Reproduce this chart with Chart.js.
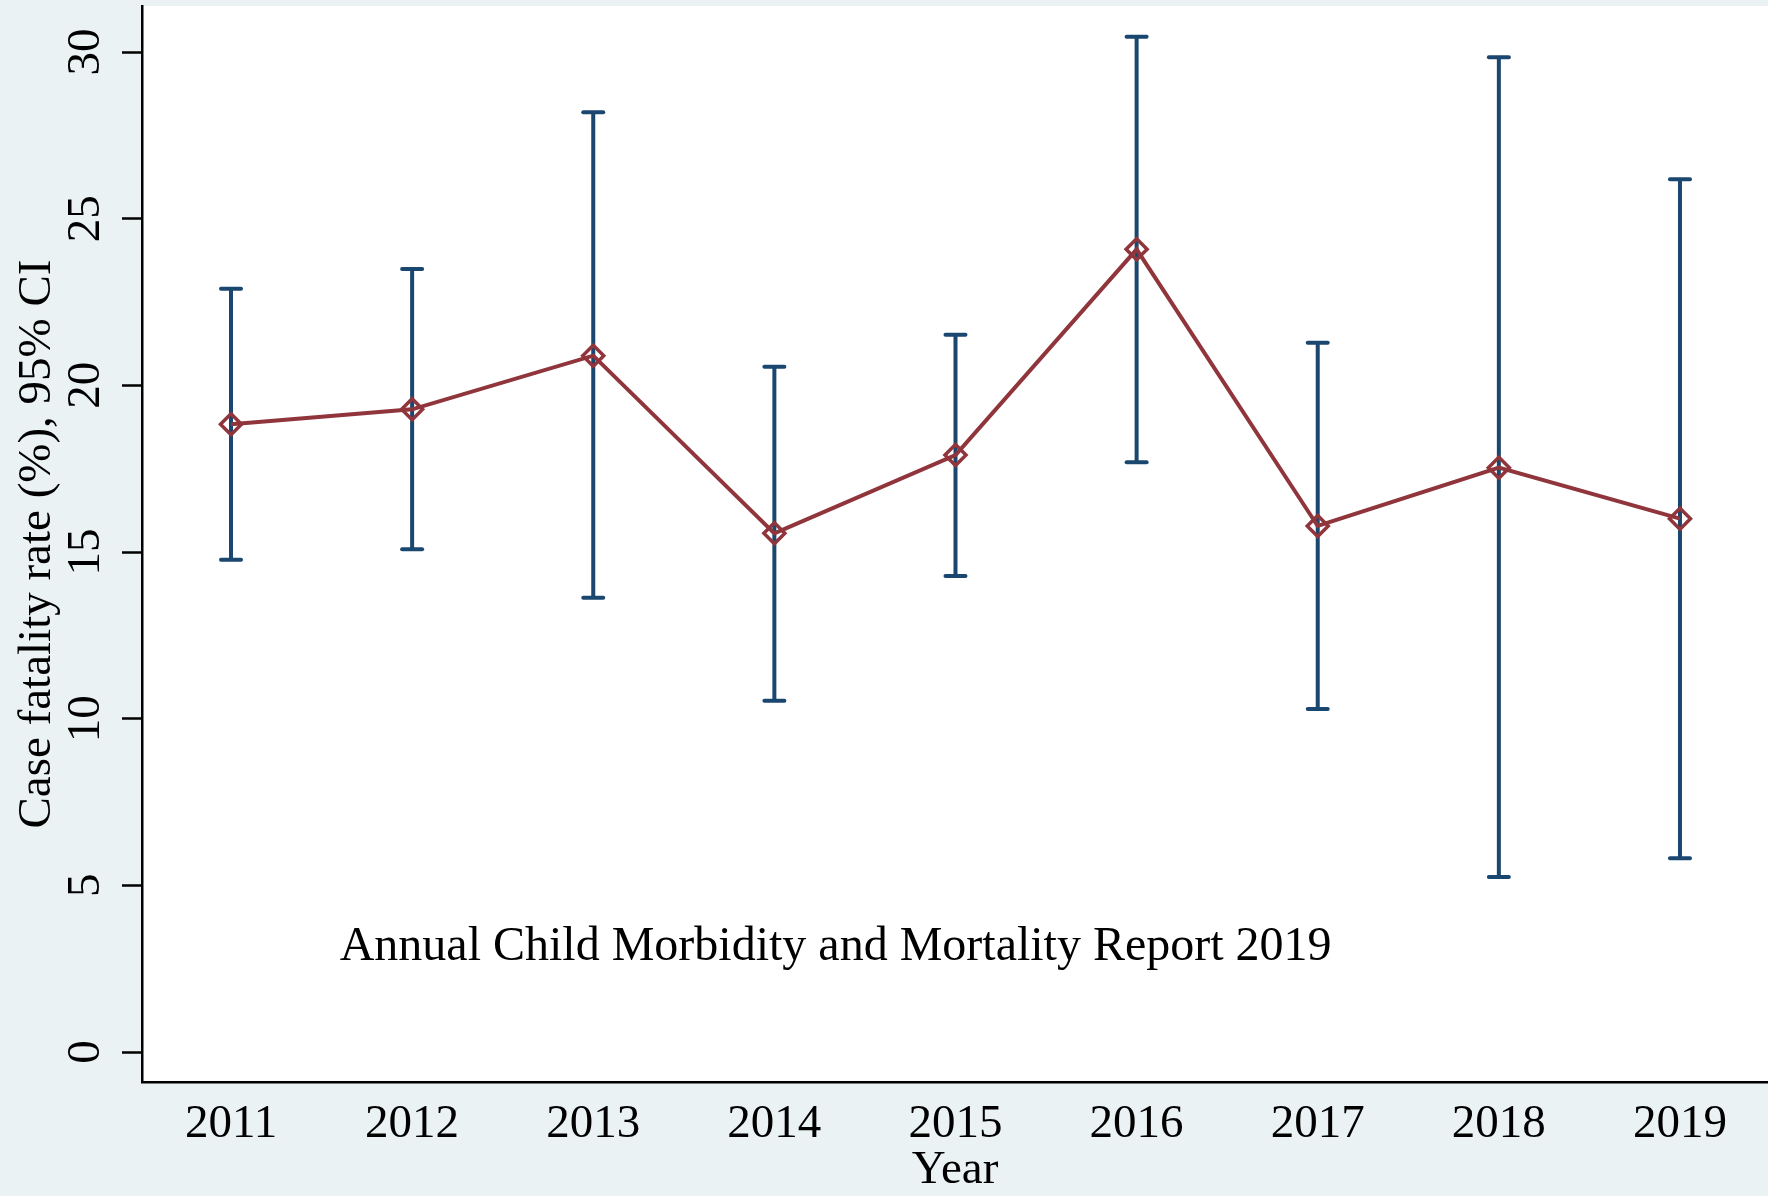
<!DOCTYPE html>
<html>
<head>
<meta charset="utf-8">
<title>Case fatality rate, 2011-2019</title>
<script src="https://cdn.jsdelivr.net/npm/chart.js@4.4.1/dist/chart.umd.min.js"></script>
<style>
  html, body { margin: 0; padding: 0; background: #eaf2f3; overflow: hidden; }
  #chart { display: block; }
</style>
</head>
<body>
<canvas id="chart" width="1768" height="1196"></canvas>
<script>
// Annual case fatality rate (%) with 95% confidence interval
const years        = [2011, 2012, 2013, 2014, 2015, 2016, 2017, 2018, 2019];
const fatalityRate = [18.83, 19.28, 20.89, 15.56, 17.91, 24.08, 15.78, 17.53, 16.00];
const ciLower      = [14.77, 15.08, 13.63, 10.54, 14.28, 17.69, 10.29, 5.25, 5.81];
const ciUpper      = [22.90, 23.49, 28.19, 20.56, 21.52, 30.46, 21.28, 29.84, 26.18];
const yTickValues  = [0, 5, 10, 15, 20, 25, 30];

const yAxisTitle = 'Case fatality rate (%), 95% CI';
const xAxisTitle = 'Year';
const noteText   = 'Annual Child Morbidity and Mortality Report 2019';

const NAVY = '#1a476f';
const MAROON = '#90353b';
const OUTER_BG = '#eaf2f3';
const FONT = 'Liberation Serif';
const FONT_SIZE = 47;

Chart.defaults.color = '#000';
Chart.defaults.font.family = FONT;
Chart.defaults.font.size = FONT_SIZE;

// Outer grey-blue background with a white plot region
const backdrop = {
  id: 'backdrop',
  beforeDraw(chart) {
    const { ctx, chartArea: a } = chart;
    ctx.save();
    ctx.fillStyle = OUTER_BG;
    ctx.fillRect(0, 0, chart.width, chart.height);
    ctx.fillStyle = '#fff';
    ctx.fillRect(a.left, a.top, chart.width - a.left, a.bottom - a.top);
    ctx.restore();
  }
};

// Round line caps for the confidence-interval whiskers
const roundCaps = {
  id: 'roundCaps',
  beforeDatasetDraw(chart, args) {
    if (chart.data.datasets[args.index].isInterval) chart.ctx.lineCap = 'round';
  },
  afterDatasetDraw(chart) {
    chart.ctx.lineCap = 'butt';
  }
};

// Source note placed in data coordinates
const sourceNote = {
  id: 'sourceNote',
  afterDatasetsDraw(chart) {
    const { ctx, scales } = chart;
    const px = scales.x.getPixelForValue(2011.6);
    const py = scales.y.getPixelForValue(2.76);
    ctx.save();
    ctx.font = `48px "${FONT}"`;
    ctx.fillStyle = '#000';
    ctx.textAlign = 'left';
    ctx.textBaseline = 'alphabetic';
    ctx.fillText(noteText, px, py);
    ctx.restore();
  }
};

const intervalSets = years.map((yr, i) => ({
  type: 'line',
  isInterval: true,
  data: [{ x: yr, y: ciLower[i] }, { x: yr, y: ciUpper[i] }],
  borderColor: NAVY,
  borderWidth: 4,
  pointStyle: 'line',
  pointRadius: 10,
  pointBorderWidth: 4,
  pointBorderColor: NAVY,
  pointHoverRadius: 10,
  order: 1
}));

const rateSet = {
  type: 'line',
  data: years.map((yr, i) => ({ x: yr, y: fatalityRate[i] })),
  borderColor: MAROON,
  borderWidth: 4,
  tension: 0,
  fill: false,
  pointStyle: 'rectRot',
  pointRadius: 10.5,
  pointHoverRadius: 10.5,
  pointBorderWidth: 3.5,
  pointBorderColor: MAROON,
  pointBackgroundColor: 'rgba(0,0,0,0)',
  order: 0
};

new Chart(document.getElementById('chart'), {
  type: 'line',
  data: { datasets: [rateSet, ...intervalSets] },
  plugins: [backdrop, roundCaps, sourceNote],
  options: {
    responsive: false,
    maintainAspectRatio: false,
    devicePixelRatio: 1,
    animation: false,
    events: [],
    layout: { autoPadding: false, padding: { top: 6, left: 0, right: 0, bottom: 0 } },
    plugins: { legend: { display: false }, tooltip: { enabled: false } },
    scales: {
      x: {
        type: 'linear',
        min: 2010.5086,
        max: 2019.486,
        afterBuildTicks(s) { s.ticks = years.map(v => ({ value: v })); },
        afterFit(s) { s.height = 114; s.paddingLeft = 0; s.paddingRight = 0; },
        grid: { display: false },
        border: { display: true, color: '#000', width: 2.5 },
        ticks: {
          padding: 6,
          maxRotation: 0,
          minRotation: 0,
          font: { family: FONT, size: FONT_SIZE },
          callback: v => String(v)
        },
        title: {
          display: true,
          text: xAxisTitle,
          font: { family: FONT, size: FONT_SIZE },
          padding: { top: 0, bottom: -3 }
        }
      },
      y: {
        type: 'linear',
        min: -0.9,
        max: 31.38,
        afterBuildTicks(s) { s.ticks = yTickValues.map(v => ({ value: v })); },
        afterFit(s) { s.width = 142; s.paddingTop = 0; s.paddingBottom = 0; },
        grid: {
          drawOnChartArea: false,
          drawTicks: true,
          tickLength: 20,
          tickWidth: 2.5,
          tickColor: '#000',
          color: '#000'
        },
        border: { display: true, color: '#000', width: 2.5 },
        ticks: {
          padding: 11.5,
          minRotation: 90,
          maxRotation: 90,
          crossAlign: 'center',
          font: { family: FONT, size: FONT_SIZE },
          callback: v => String(v)
        },
        title: {
          display: true,
          text: yAxisTitle,
          font: { family: FONT, size: FONT_SIZE },
          padding: { top: 9, bottom: 0 }
        }
      }
    }
  }
});
</script>
</body>
</html>
